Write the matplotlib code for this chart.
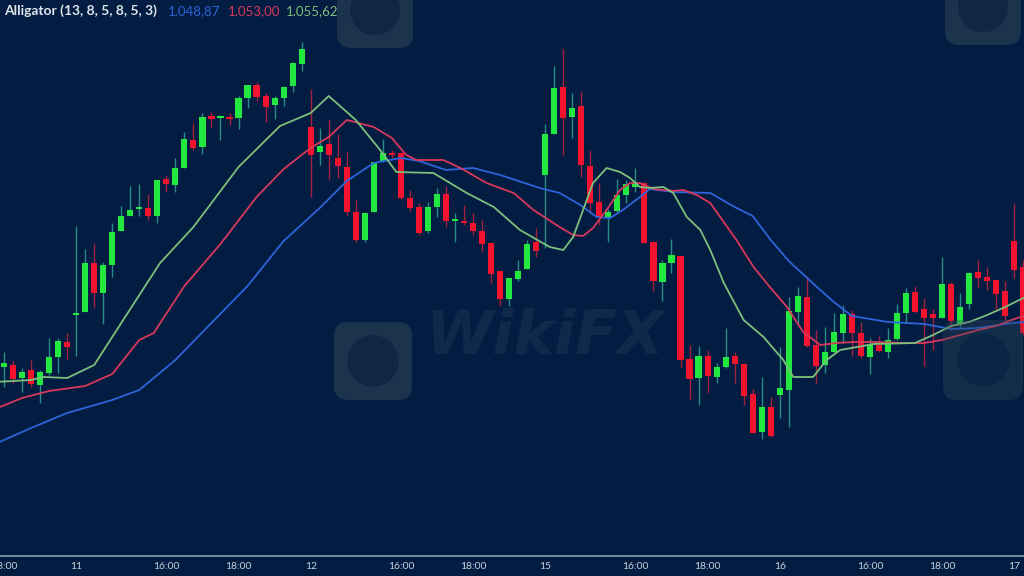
import matplotlib
matplotlib.use("Agg")
import matplotlib.pyplot as plt
from matplotlib.patches import FancyBboxPatch, Circle
from matplotlib.transforms import IdentityTransform
import numpy as np

# ---------------- data (price units, arbitrary scale) ----------------
opens = [233, 235, 222, 230, 215, 227, 243, 258, 285, 288, 337, 307, 335, 369, 384, 391, 392, 384, 421, 415,
         432, 460, 453, 484, 482, 483, 482, 502, 515, 504, 495, 502, 514, 536, 473, 448, 456, 442, 433, 388,
         360, 388, 439, 447, 447, 402, 393, 369, 393, 406, 379, 379, 377, 369, 357, 329, 301, 321, 331, 358,
         425, 466, 513, 483, 494, 434, 398, 383, 389, 405, 413, 417, 358, 318, 337, 344, 241, 222, 244, 223,
         233, 244, 236, 206, 168, 193, 205, 210, 288, 303, 255, 235, 248, 267, 286, 267, 243, 255, 248, 261,
         287, 308, 291, 286, 282, 316, 276, 296, 328, 323, 320, 309, 359, 333]
highs = [248, 239, 232, 240, 230, 262, 262, 267, 374, 351, 357, 338, 377, 394, 414, 416, 406, 420, 425, 442,
         468, 477, 487, 488, 485, 487, 504, 515, 518, 507, 504, 514, 538, 558, 511, 472, 481, 466, 448, 400,
         387, 438, 461, 450, 448, 410, 397, 398, 412, 414, 387, 395, 387, 380, 357, 329, 322, 340, 360, 372,
         476, 534, 551, 507, 509, 450, 417, 391, 421, 420, 432, 417, 359, 340, 361, 345, 255, 254, 250, 237,
         272, 248, 237, 211, 223, 203, 253, 303, 313, 324, 270, 273, 287, 295, 290, 278, 262, 264, 272, 296,
         312, 314, 302, 291, 343, 318, 307, 328, 340, 333, 320, 319, 397, 340]
lows = [213, 217, 208, 213, 197, 225, 227, 241, 244, 288, 292, 276, 323, 369, 384, 384, 380, 377, 408, 408,
        432, 450, 446, 473, 460, 475, 471, 492, 499, 478, 481, 494, 508, 529, 403, 435, 420, 422, 385, 358,
        358, 388, 438, 442, 401, 389, 365, 367, 383, 373, 358, 375, 365, 348, 317, 294, 294, 319, 331, 343,
        352, 466, 445, 462, 423, 387, 375, 358, 388, 397, 408, 357, 309, 299, 327, 233, 201, 195, 207, 217,
        232, 217, 195, 167, 161, 163, 182, 173, 275, 253, 217, 227, 247, 257, 244, 242, 226, 248, 242, 260,
        277, 287, 234, 250, 282, 270, 273, 291, 313, 310, 290, 278, 322, 265]
closes = [237, 221, 228, 216, 228, 243, 259, 253, 287, 337, 307, 335, 368, 384, 390, 393, 384, 420, 416, 432,
          461, 452, 483, 481, 483, 481, 502, 515, 503, 493, 502, 513, 537, 551, 445, 454, 445, 434, 388, 360,
          387, 438, 447, 445, 402, 392, 367, 393, 406, 379, 380, 377, 369, 356, 326, 301, 322, 329, 356, 349,
          466, 512, 482, 492, 435, 397, 383, 388, 405, 416, 417, 357, 319, 337, 345, 240, 221, 244, 224, 233,
          243, 236, 204, 167, 193, 164, 212, 289, 304, 254, 234, 248, 268, 286, 267, 244, 255, 249, 260, 287,
          307, 288, 282, 282, 316, 279, 293, 327, 322, 319, 306, 284, 330, 267]

# Alligator lines (time position, value)
jaw_t = [-1, 3, 7, 12, 15, 19, 23, 27, 31, 35, 38, 41, 44, 46, 49, 52, 55, 59.4, 61.6, 63.9, 65.7, 67.2,
         68.6, 70.5, 71.6, 74.2, 78.3, 81, 83, 85, 87, 90, 92, 94, 98, 102, 105, 108, 111, 114]
jaw_v = [156, 172, 187, 200, 210, 240, 277, 314, 359, 392, 419, 437, 442, 439, 430, 432, 425, 412, 407, 395,
         383, 382, 390, 403, 411, 408, 407, 393, 384, 360, 339, 314, 298, 284, 278, 276, 271, 272, 276, 279]
teeth_t = [-1, 2, 5, 9, 12, 15, 16.6, 20, 24, 28, 31, 34, 36, 38, 41, 43, 44.6, 45.7, 48.7, 50.6, 53.5,
           56.5, 58.7, 61.6, 63.1, 64.2, 65.3, 66.8, 68.3, 69.4, 70.5, 72, 74.2, 75.3, 76.8, 78.3, 79.4,
           81.2, 83.1, 84.9, 86.8, 88.6, 90.5, 92.3, 94.2, 96.4, 100, 102, 104, 106, 108, 110, 112, 114]
teeth_v = [191, 202, 209, 214, 226, 260, 267, 314, 356, 403, 431, 452, 463, 480, 473, 462, 445, 440, 440,
           432, 417, 407, 390, 373, 365, 364, 372, 390, 410, 417, 417, 411, 409, 410, 405, 397, 383, 360,
           333, 313, 293, 268, 255, 257, 258, 258, 257, 257, 260, 265, 270, 274, 281, 287]
lips_t = [-1, 3, 4.4, 7, 10, 13, 17.3, 21, 26, 30.6, 34, 36, 39, 41.7, 43.5, 47.6, 51.3, 54.3, 57.2, 60.5,
          62, 63.1, 64.2, 65.3, 66.8, 68.3, 69.4, 70.5, 71.6, 73.1, 74.2, 75.7, 77.2, 78.3, 79.8, 82, 84.2,
          86.4, 87.5, 89.7, 91.2, 92.7, 96.4, 101, 103, 105, 107, 109, 111, 113, 114]
lips_v = [218, 220, 223, 222, 235, 277, 337, 373, 433, 474, 487, 504, 480, 450, 428, 427, 407, 393, 370, 353,
          350, 363, 390, 417, 432, 428, 422, 413, 412, 413, 407, 383, 370, 350, 317, 280, 263, 240, 223, 223,
          240, 250, 256, 257, 265, 274, 278, 285, 293, 302, 304]

tick_pos = [0, 8, 18, 26, 34, 44, 52, 60, 70, 78, 86, 96, 104, 112]
tick_labels = ["18:00", "11", "16:00", "18:00", "12", "16:00", "18:00", "15", "16:00", "18:00", "16",
               "16:00", "18:00", "17"]

legend_title = "Alligator (13, 8, 5, 8, 5, 3)"
legend_values = ["1.048,87", "1.053,00", "1.055,62"]

# ---------------- style ----------------
BG = "#021d41"
UP = "#22e83f"
DOWN = "#f2132f"
UP_WICK = "#2a8a84"
DOWN_WICK = "#a3203f"
JAW = "#2f63d9"
TEETH = "#d8385b"
LIPS = "#7dbf7d"

fig = plt.figure(figsize=(10.24, 5.76), dpi=100, facecolor=BG)
ax = fig.add_axes([0, 20 / 576, 1, 556 / 576])
ax.set_facecolor(BG)

# ---------------- watermarks ----------------
def logo(x0, y0, size, alpha=0.5):
    p = FancyBboxPatch((x0, y0), size, size, boxstyle="round,pad=0,rounding_size=14",
                       transform=IdentityTransform(), facecolor="#34495a", edgecolor="none",
                       alpha=alpha, zorder=0.5)
    fig.add_artist(p)
    c = Circle((x0 + size / 2, y0 + size / 2), size * 0.33, transform=IdentityTransform(),
               facecolor="#0c2444", edgecolor="none", alpha=0.8, zorder=0.6)
    fig.add_artist(c)

logo(334, 176, 78)
logo(337, 528, 76)
logo(945, 531, 76)
logo(943, 176, 80, alpha=0.35)
fig.text(545 / 1024, 1 - 338 / 576, "WikiFX", fontsize=44, fontweight="bold", style="italic",
         color="#112b4a", ha="center", va="center", zorder=0.5, alpha=0.9)

# ---------------- candles ----------------
o = np.array(opens, float)
h = np.array(highs, float)
l = np.array(lows, float)
c = np.array(closes, float)
idx = np.arange(len(o))
up = c >= o
wick_cols = np.where(up, UP_WICK, DOWN_WICK)
body_cols = np.where(up, UP, DOWN)
ax.vlines(idx, l, h, colors=wick_cols, linewidth=1.0, zorder=2)
body_h = np.maximum(np.abs(c - o), 1.6)
body_b = np.minimum(o, c)
ax.bar(idx, body_h, bottom=body_b, width=0.68, color=body_cols, linewidth=0, zorder=3)

# ---------------- alligator ----------------
ax.plot(jaw_t, jaw_v, color=JAW, linewidth=1.3, zorder=4, solid_joinstyle="round")
ax.plot(teeth_t, teeth_v, color=TEETH, linewidth=1.3, zorder=4, solid_joinstyle="round")
ax.plot(lips_t, lips_v, color=LIPS, linewidth=1.3, zorder=4, solid_joinstyle="round")

# ---------------- axes ----------------
ax.set_xlim(-0.443, 113.08)
ax.set_ylim(44, 600)
for s in ["top", "left", "right"]:
    ax.spines[s].set_visible(False)
ax.spines["bottom"].set_color("#8193aa")
ax.spines["bottom"].set_linewidth(1.3)
ax.set_yticks([])
ax.set_xticks(tick_pos)
ax.set_xticklabels(tick_labels, fontsize=7.5, color="#c9d1dc", fontfamily="Lato")
ax.tick_params(axis="x", length=0, pad=4)

# ---------------- legend text ----------------
fig.text(4 / 1024, 1 - 11 / 576, legend_title, fontsize=10, fontweight="bold", color="#dfe4ea",
         fontfamily="Lato", ha="left", va="center")
for xp, txt, col in zip([168, 228, 286], legend_values, [JAW, TEETH, LIPS]):
    fig.text(xp / 1024, 1 - 11 / 576, txt, fontsize=9.5, color=col, fontfamily="Lato",
             ha="left", va="center")

fig.savefig("out.png", dpi=100, facecolor=BG)
